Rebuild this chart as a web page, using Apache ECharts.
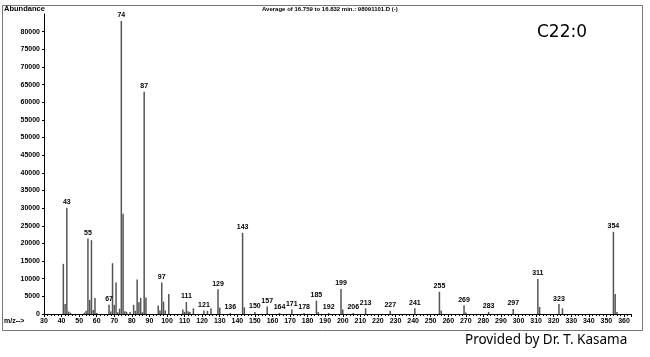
<!DOCTYPE html>
<html>
<head>
<meta charset="utf-8">
<script src="https://cdn.jsdelivr.net/npm/echarts@6/dist/echarts.min.js"></script>
<style>
html,body{margin:0;padding:0;background:#fff;}
#chart{width:650px;height:357px;}
</style>
</head>
<body>
<div id="chart"></div>
<script>
// m/z values of the peaks
var mzValues = [41,42,43,44,45,53,54,55,56,57,58,59,60,67,68,69,70,71,72,73,74,75,76,77,79,81,82,83,84,85,86,87,88,
  95,96,97,98,99,101,109,110,111,112,113,115,121,123,125,129,130,136,143,144,150,157,164,171,178,185,186,192,199,200,206,
  213,227,241,255,256,269,270,283,297,311,312,323,325,354,355,356];
// abundance of each peak
var abundanceValues = [14200,2800,30100,700,400,400,900,21400,4000,20900,1100,4500,300,2600,700,14400,2600,8900,500,1500,83000,28400,800,600,600,2600,900,9800,3300,4600,500,63000,4700,
  2400,1000,8900,3500,1000,5700,1300,600,3400,800,600,1600,1000,900,1600,7000,1800,300,23000,1900,600,2100,300,1300,300,3800,600,300,7100,1300,300,
  1600,900,1600,6300,1000,2500,400,600,1400,9900,2000,2800,1600,23300,5700,600];
// peaks annotated with their m/z
var labeledMz = [43,55,67,74,87,97,111,121,129,136,143,150,157,164,171,178,185,192,199,206,213,227,241,255,269,283,297,311,323,354];
// axis tick settings
var xTicks = {min:30, max:364, interval:10};
var yTicks = {min:0, max:85000, interval:5000};

var data = mzValues.map(function(mz,i){
  var item = {value:[mz, abundanceValues[i]]};
  if (labeledMz.indexOf(mz) >= 0) item.label = {show:true};
  return item;
});

var chart = echarts.init(document.getElementById('chart'), null, {renderer:'canvas'});
var lblFont = {fontFamily:'Liberation Sans, Arial, sans-serif', fontWeight:'bold', fontSize:7, color:'#000'};
chart.setOption({
  animation:false,
  backgroundColor:'#fff',
  grid:{left:44, right:19, top:14, bottom:43, containLabel:false},
  xAxis:{
    type:'value', min:xTicks.min, max:xTicks.max, interval:xTicks.interval,
    axisLine:{show:true, lineStyle:{color:'#000', width:1}},
    axisTick:{show:true, length:3, lineStyle:{color:'#000'}},
    minorTick:{show:true, splitNumber:5, length:2, lineStyle:{color:'#000'}},
    axisLabel:Object.assign({margin:4, showMaxLabel:false, showMinLabel:true, formatter:function(v){return String(v);}}, lblFont),
    splitLine:{show:false}
  },
  yAxis:{
    type:'value', min:yTicks.min, max:yTicks.max, interval:yTicks.interval,
    axisLine:{show:true, lineStyle:{color:'#000', width:1}},
    axisTick:{show:true, length:2, lineStyle:{color:'#000'}},
    axisLabel:Object.assign({margin:4, showMaxLabel:false, formatter:function(v){return String(v);}}, lblFont),
    splitLine:{show:false}
  },
  series:[{
    type:'bar',
    barWidth:1.5,
    itemStyle:{color:'#555'},
    label:Object.assign({show:false, position:'top', distance:2, formatter:function(p){return String(p.value[0]);}}, lblFont),
    data:data
  }],
  graphic:[
    {type:'rect', silent:true, shape:{x:2.5, y:5.5, width:640, height:325}, style:{fill:null, stroke:'#777', lineWidth:1}},
    {type:'text', left:4, top:5, style:{text:'Abundance', font:'bold 7.5px "Liberation Sans", Arial, sans-serif', fill:'#000'}},
    {type:'text', left:4, top:318, style:{text:'m/z-->', font:'bold 7px "Liberation Sans", Arial, sans-serif', fill:'#000'}},
    {type:'text', left:262, top:6, style:{text:'Average of 16.759 to 16.832 min.: 98091101.D (-)', font:'bold 6px "Liberation Sans", Arial, sans-serif', fill:'#000'}},
    {type:'text', left:537, top:24, style:{text:'C22:0', font:'17px "DejaVu Sans", sans-serif', fill:'#000'}},
    {type:'text', left:465, top:333, style:{text:'Provided by Dr. T. Kasama', font:'13.5px "Noto Sans", sans-serif', fill:'#000'}}
  ]
});
</script>
</body>
</html>
